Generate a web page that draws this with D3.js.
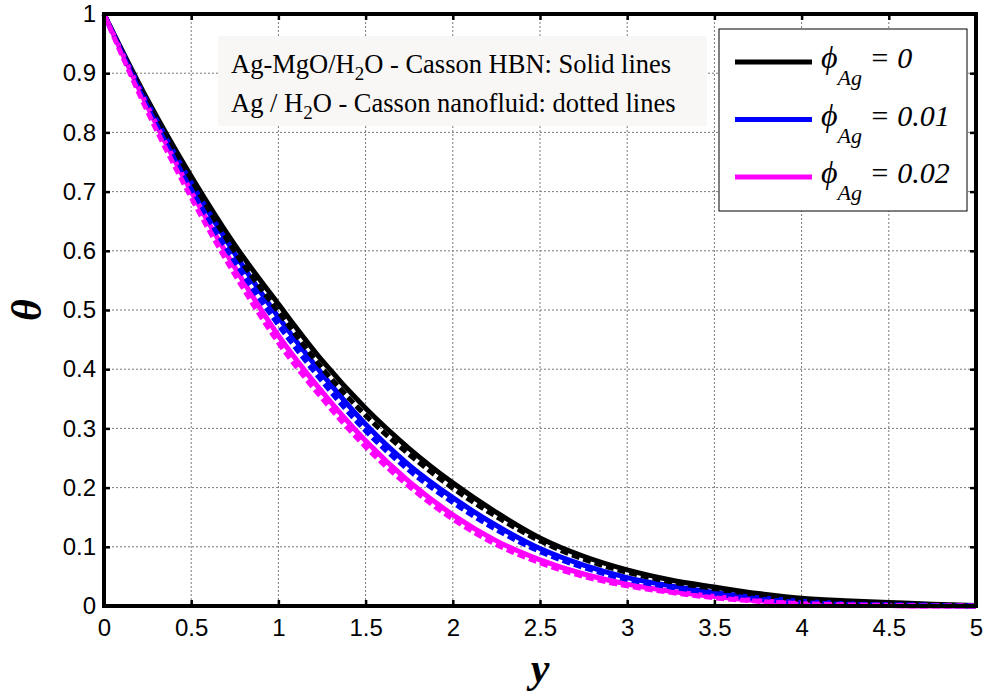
<!DOCTYPE html>
<html>
<head>
<meta charset="utf-8">
<script src="https://cdn.jsdelivr.net/npm/d3@7"></script>
<style>
  body { margin: 0; background: #fff; }
  svg { display: block; }
  .serif { font-family: "Liberation Serif", "Times New Roman", serif; }
</style>
</head>
<body>
<svg id="chart" width="984" height="698"></svg>
<script>
// distance y (x axis) and temperature theta for each case
const yPos = [0, 0.25, 0.5, 0.75, 1, 1.25, 1.5, 1.75, 2, 2.25, 2.5, 2.75, 3, 3.25, 3.5, 3.75, 4, 4.25, 4.5, 4.75, 5];

// Ag-MgO/H2O hybrid (solid)
const hbn0  = [1, 0.855, 0.726, 0.61, 0.51, 0.415, 0.334, 0.266, 0.208, 0.158, 0.115, 0.084, 0.061, 0.044, 0.032, 0.021, 0.013, 0.009, 0.006, 0.003, 0.001];
const hbn01 = [1, 0.85, 0.715, 0.595, 0.488, 0.392, 0.307, 0.238, 0.183, 0.136, 0.097, 0.069, 0.048, 0.034, 0.023, 0.014, 0.008, 0.004, 0.002, 0.001, 0];
const hbn02 = [1, 0.843, 0.70, 0.572, 0.457, 0.362, 0.279, 0.21, 0.154, 0.11, 0.078, 0.054, 0.037, 0.025, 0.016, 0.009, 0.005, 0.002, 0.001, 0, 0];

// Ag/H2O nanofluid (dotted)
const nf0  = [1, 0.849, 0.716, 0.598, 0.497, 0.402, 0.322, 0.256, 0.199, 0.151, 0.11, 0.079, 0.057, 0.041, 0.029, 0.019, 0.011, 0.007, 0.004, 0.002, 0];
const nf01 = [1, 0.843, 0.704, 0.582, 0.475, 0.38, 0.296, 0.229, 0.175, 0.129, 0.092, 0.065, 0.045, 0.032, 0.021, 0.012, 0.006, 0.003, 0.002, 0.001, 0];
const nf02 = [1, 0.835, 0.69, 0.56, 0.445, 0.351, 0.269, 0.202, 0.147, 0.104, 0.073, 0.05, 0.034, 0.023, 0.014, 0.008, 0.004, 0.002, 0.001, 0, 0];

const xTicks = [0, 0.5, 1, 1.5, 2, 2.5, 3, 3.5, 4, 4.5, 5];
const yTicks = [0, 0.1, 0.2, 0.3, 0.4, 0.5, 0.6, 0.7, 0.8, 0.9, 1];

const phiLabels = ["0", "0.01", "0.02"];
const colors = ["#000000", "#0000ff", "#ff00ff"];
const noteLines = [
  ["Ag-MgO/H", "2", "O - Casson HBN: Solid lines"],
  ["Ag / H", "2", "O - Casson nanofluid: dotted lines"]
];

const svg = d3.select("#chart");
const pLeft = 104, pRight = 976, pTop = 14, pBottom = 606;

const x = d3.scaleLinear().domain([0, 5]).range([pLeft, pRight]);
const y = d3.scaleLinear().domain([0, 1]).range([pBottom, pTop]);

// grid
const grid = svg.append("g").attr("stroke", "#7a7a7a").attr("stroke-width", 1).attr("stroke-dasharray", "2,2");
grid.selectAll(".gx").data(xTicks.slice(1, -1)).enter().append("line")
  .attr("x1", d => x(d)).attr("x2", d => x(d)).attr("y1", pTop).attr("y2", pBottom);
grid.selectAll(".gy").data(yTicks.slice(1, -1)).enter().append("line")
  .attr("x1", pLeft).attr("x2", pRight).attr("y1", d => y(d)).attr("y2", d => y(d));

// note box
const note = svg.append("g");
note.append("rect").attr("x", 218).attr("y", 36).attr("width", 489).attr("height", 90).attr("fill", "#f9f6f6");
noteLines.forEach((parts, i) => {
  const t = note.append("text").attr("class", "serif").attr("x", 231).attr("y", 73 + i * 39)
    .attr("font-size", 26.5).attr("fill", "#000");
  t.append("tspan").text(parts[0]);
  t.append("tspan").attr("dy", 7).attr("font-size", 19).text(parts[1]);
  t.append("tspan").attr("dy", -7).text(parts[2]);
});

// curves
const line = d3.line().x((d, i) => x(yPos[i])).y(d => y(d)).curve(d3.curveMonotoneX);
const solids = [hbn0, hbn01, hbn02];
const dashed = [nf0, nf01, nf02];
solids.forEach((s, i) => {
  svg.append("path").datum(s).attr("fill", "none").attr("stroke", colors[i])
    .attr("stroke-width", 5).attr("stroke-linejoin", "round").attr("d", line);
});
dashed.forEach((s, i) => {
  svg.append("path").datum(s).attr("fill", "none").attr("stroke", colors[i])
    .attr("stroke-width", 5).attr("stroke-dasharray", "8,4").attr("d", line);
});

// axes: bottom/left with labels, top/right ticks only
const xAxis = svg.append("g").attr("transform", `translate(0,${pBottom})`)
  .call(d3.axisBottom(x).tickValues(xTicks).tickSize(-6).tickPadding(13).tickFormat(d3.format("")));
const yAxis = svg.append("g").attr("transform", `translate(${pLeft},0)`)
  .call(d3.axisLeft(y).tickValues(yTicks).tickSize(-6).tickPadding(8).tickFormat(d3.format("")));
svg.append("g").attr("transform", `translate(0,${pTop})`)
  .call(d3.axisTop(x).tickValues(xTicks).tickSize(-6).tickFormat(""));
svg.append("g").attr("transform", `translate(${pRight},0)`)
  .call(d3.axisRight(y).tickValues(yTicks).tickSize(-6).tickFormat(""));
svg.selectAll(".domain").remove();
svg.selectAll(".tick line").attr("stroke", "#000").attr("stroke-width", 2.5);
[xAxis, yAxis].forEach(a => {
  a.attr("font-size", null).attr("font-family", null);
  a.selectAll(".tick text")
    .style("font-family", "'Liberation Sans', Arial, sans-serif")
    .style("font-size", "24px")
    .attr("fill", "#000");
});
xAxis.selectAll(".tick text").attr("dy", "0.71em");

svg.append("rect").attr("x", pLeft).attr("y", pTop).attr("width", pRight - pLeft).attr("height", pBottom - pTop)
  .attr("fill", "none").attr("stroke", "#000").attr("stroke-width", 4);

// legend
const lg = svg.append("g");
lg.append("rect").attr("x", 719).attr("y", 29).attr("width", 248).attr("height", 182)
  .attr("fill", "#fff").attr("stroke", "#000").attr("stroke-width", 1);
phiLabels.forEach((p, i) => {
  const cy = 62 + i * 57.5;
  lg.append("line").attr("x1", 735).attr("x2", 812).attr("y1", cy).attr("y2", cy)
    .attr("stroke", colors[i]).attr("stroke-width", 5);
  const t = lg.append("text").attr("class", "serif").attr("x", 821).attr("y", cy + 6)
    .attr("font-size", 30).attr("font-style", "italic").attr("fill", "#000");
  t.append("tspan").attr("font-size", 32).text("\u03D5");
  t.append("tspan").attr("dy", 17).attr("font-size", 22).text("Ag");
  t.append("tspan").attr("dy", -17).text(" = " + p);
});

// axis titles
svg.append("text").attr("class", "serif").attr("transform", "translate(41,310) rotate(-90)")
  .attr("text-anchor", "middle").attr("font-size", 42).attr("font-weight", "bold").attr("font-style", "italic")
  .text("\u03B8");
svg.append("text").attr("class", "serif").attr("x", 540).attr("y", 682)
  .attr("text-anchor", "middle").attr("font-size", 42).attr("font-weight", "bold").attr("font-style", "italic")
  .text("y");
</script>
</body>
</html>
